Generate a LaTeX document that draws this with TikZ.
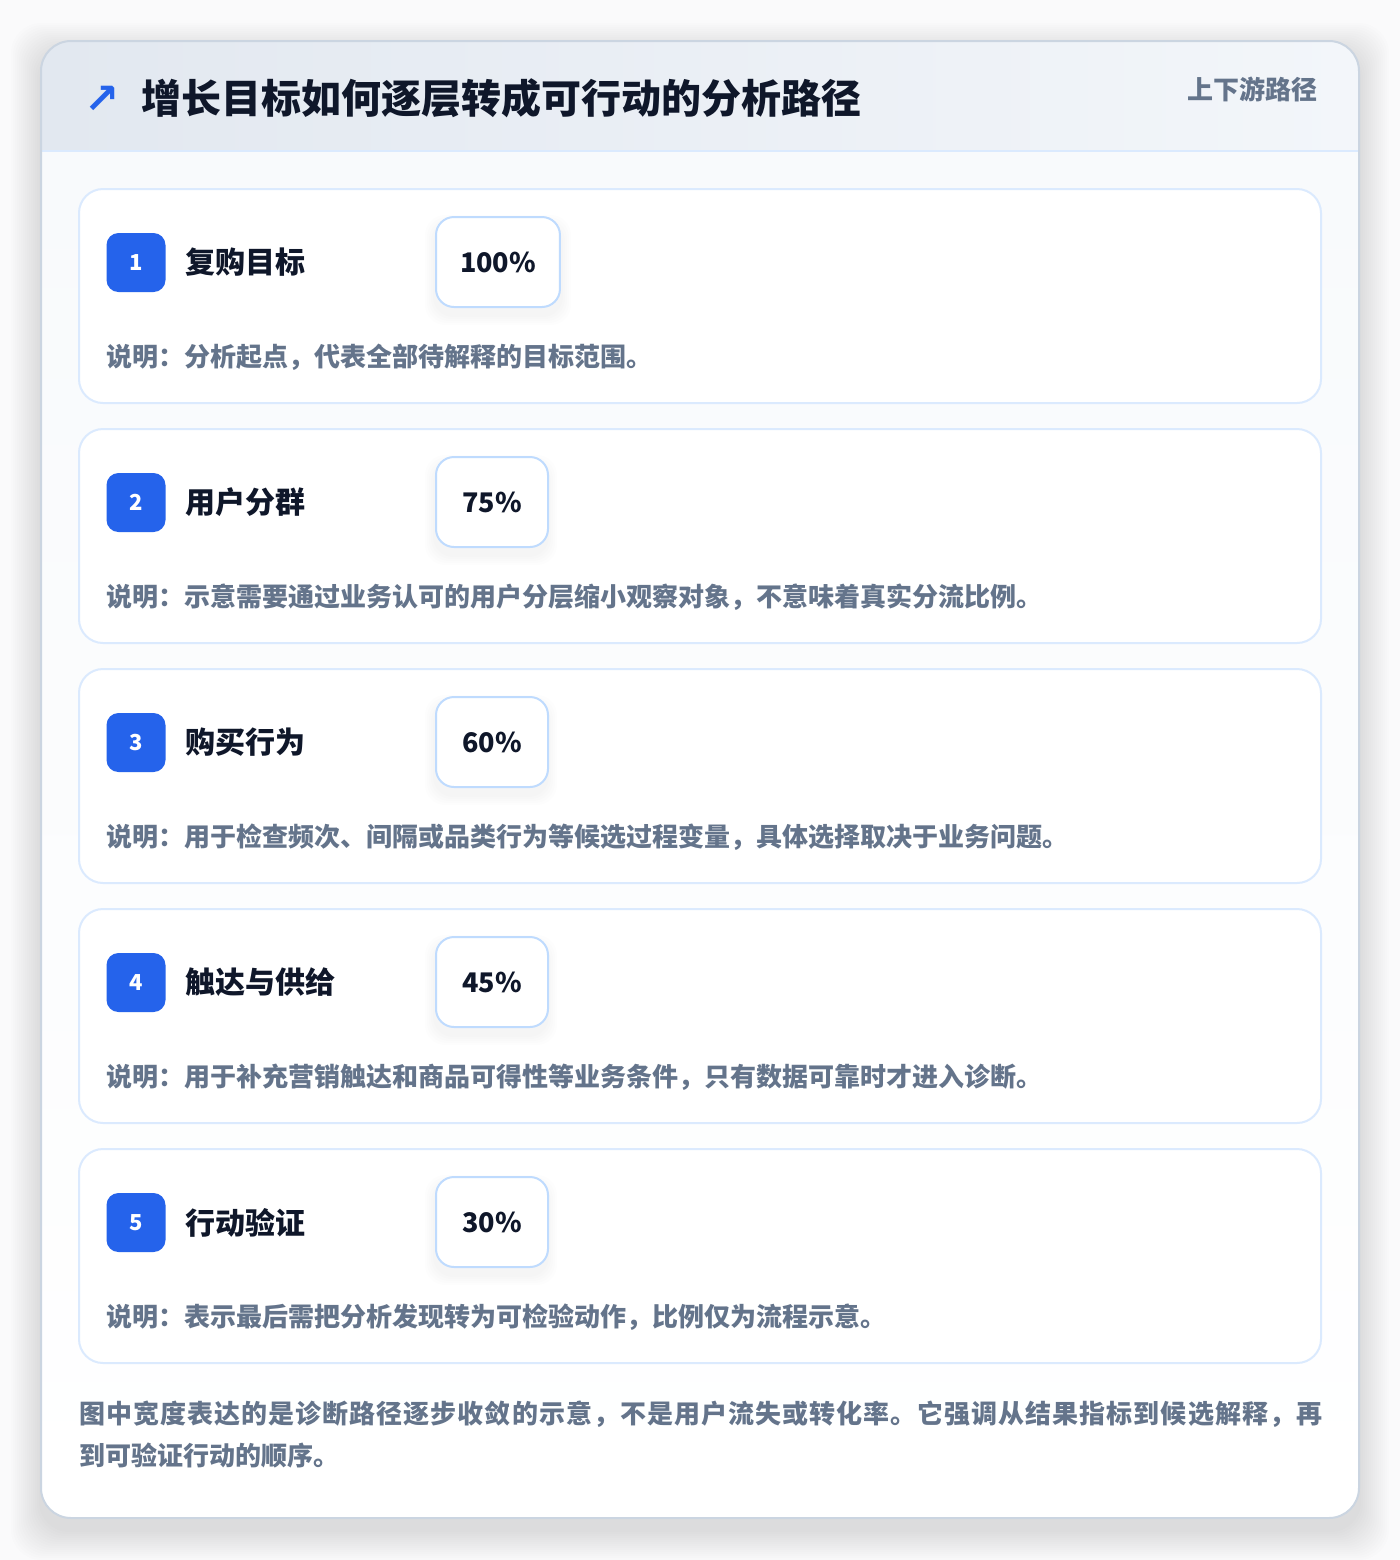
\documentclass[tikz,border=0pt]{standalone}
\usepackage{fontspec}
\setmainfont{Noto Sans CJK SC}
\newfontfamily\symfont{DejaVu Sans}
\usetikzlibrary{positioning}

\definecolor{pagebg}{HTML}{FAFAFB}
\definecolor{framec}{HTML}{CBD5E1}
\definecolor{hdrleft}{HTML}{E2E8F0}
\definecolor{hdrright}{HTML}{F3F6FA}
\definecolor{hdrline}{HTML}{DBEAFE}
\definecolor{bodybg}{HTML}{F8FAFC}
\definecolor{cardline}{HTML}{DBEAFE}
\definecolor{pctline}{HTML}{BFDBFE}
\definecolor{badgeblue}{HTML}{2563EB}
\definecolor{ink}{HTML}{0F172A}
\definecolor{slate}{HTML}{64748B}

\begin{document}
\begin{tikzpicture}[x=0.5pt,y=-0.5pt,
    card/.style={draw=cardline, line width=1pt, fill=white, rounded corners=12pt,
      minimum width=621pt, minimum height=107pt},
    badge/.style={fill=badgeblue, rounded corners=6pt, minimum size=29.5pt, inner sep=0pt,
      text=white, font=\fontsize{11}{11}\selectfont\bfseries},
    stagename/.style={inner sep=0pt, text=ink, font=\fontsize{15}{15}\selectfont\bfseries},
    pctbox/.style={draw=pctline, line width=1pt, fill=white, rounded corners=9pt,
      minimum height=45pt, minimum width=56pt, inner xsep=12pt, text=ink,
      font=\fontsize{13.5}{13.5}\selectfont\bfseries},
    note/.style={inner sep=0pt, text=slate, font=\fontsize{13}{13}\selectfont\bfseries}]
  \useasboundingbox (0,0) rectangle (1400,1560);
  \fill[pagebg] (0,0) rectangle (1400,1560);

  % soft shadow of the outer panel
  \foreach \k in {2,4,...,30}
    \fill[black, opacity=0.006, rounded corners=15pt]
      (41-\k,{41-\k+12}) rectangle (1359+\k,{1518+\k+12});

  % outer panel
  \fill[white, rounded corners=15pt] (41,41) rectangle (1359,1518);
  \begin{scope}
    \clip[rounded corners=15pt] (41,41) rectangle (1359,1518);
    \shade[top color=bodybg, bottom color=white] (41,151) rectangle (1359,1518);
    \shade[left color=hdrleft, right color=hdrright] (41,41) rectangle (1359,151);
  \end{scope}
  \draw[hdrline, line width=1pt] (41,151) -- (1359,151);
  \draw[framec, line width=1pt, rounded corners=15pt] (41,41) rectangle (1359,1518);

  % header
  \node[text=badgeblue, font=\symfont\fontsize{21}{21}\selectfont\bfseries] (icon) at (102,100) {↗};
  \node[anchor=west, inner sep=0pt, text=ink, font=\fontsize{20}{20}\selectfont\bfseries]
    (title) at (141,98) {增长目标如何逐层转成可行动的分析路径};
  \node[anchor=east, inner sep=0pt, text=slate, font=\fontsize{13}{13}\selectfont\bfseries]
    (tag) at (1318,89) {上下游路径};

  % stages
  \foreach \i/\name/\pct/\desc in {
      1/{复购目标}/{100\%}/{说明：分析起点，代表全部待解释的目标范围。},
      2/{用户分群}/{75\%}/{说明：示意需要通过业务认可的用户分层缩小观察对象，不意味着真实分流比例。},
      3/{购买行为}/{60\%}/{说明：用于检查频次、间隔或品类行为等候选过程变量，具体选择取决于业务问题。},
      4/{触达与供给}/{45\%}/{说明：用于补充营销触达和商品可得性等业务条件，只有数据可靠时才进入诊断。},
      5/{行动验证}/{30\%}/{说明：表示最后需把分析发现转为可检验动作，比例仅为流程示意。}} {
    \node[card] (card\i) at (700,{296+240*(\i-1)}) {};
    \node[badge] (badge\i) at (136,{262.5+240*(\i-1)}) {\i};
    \node[stagename, right=9.5pt of badge\i] (name\i) {\name};
    % faint shadow under the share box
    \foreach \k in {2,4,...,10}
      \fill[black, opacity=0.006, rounded corners=10pt]
        (435-\k,{217+240*(\i-1)-\k+8}) rectangle ({435+(\i==1 ? 126 : 112)+\k},{307+240*(\i-1)+\k+8});
    \node[pctbox, anchor=west] (pct\i) at (435,{262+240*(\i-1)}) {\pct};
    \node[note, anchor=west] (desc\i) at (106,{357+240*(\i-1)}) {\desc};
  }

  % footer
  \node[anchor=north west, inner sep=0pt, align=left, text=slate,
    font=\fontsize{13}{21}\selectfont\bfseries] (footer) at (79,1400)
    {{\addfontfeature{LetterSpace=4.0}图中宽度表达的是诊断路径逐步收敛的示意，不是用户流失或转化率。它强调从结果指标到候选解释，再}\\
     到可验证行动的顺序。};
\end{tikzpicture}
\end{document}
